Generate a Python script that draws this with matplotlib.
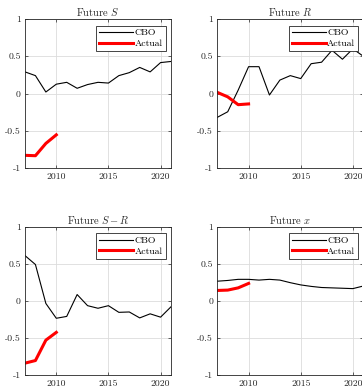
import matplotlib
matplotlib.use("Agg")
import matplotlib.pyplot as plt

plt.rcParams['font.family'] = ['cmr10', 'DejaVu Serif']
plt.rcParams['mathtext.fontset'] = 'cm'
plt.rcParams['axes.unicode_minus'] = False
plt.rcParams['axes.formatter.use_mathtext'] = True

years = [2007, 2008, 2009, 2010, 2011, 2012, 2013, 2014, 2015, 2016, 2017, 2018, 2019, 2020, 2021]
actual_years = [2007, 2008, 2009, 2010]

cbo_S = [0.29, 0.24, 0.02, 0.125, 0.15, 0.07, 0.12, 0.15, 0.14, 0.24, 0.28, 0.35, 0.29, 0.415, 0.43]
act_S = [-0.83, -0.835, -0.67, -0.555]

cbo_R = [-0.32, -0.245, 0.045, 0.36, 0.36, -0.02, 0.18, 0.24, 0.20, 0.40, 0.42, 0.58, 0.46, 0.60, 0.50]
act_R = [0.015, -0.045, -0.15, -0.14]

cbo_SR = [0.61, 0.49, -0.035, -0.235, -0.21, 0.085, -0.065, -0.10, -0.065, -0.155, -0.15, -0.23, -0.175, -0.22, -0.08]
act_SR = [-0.84, -0.805, -0.53, -0.425]

cbo_x = [0.265, 0.275, 0.29, 0.29, 0.28, 0.29, 0.28, 0.245, 0.215, 0.195, 0.18, 0.175, 0.17, 0.165, 0.20]
act_x = [0.14, 0.145, 0.175, 0.235]

titles = ['Future $S$', 'Future $R$', 'Future $S-R$', 'Future $x$']
xticks = [2010, 2015, 2020]
yticks = [-1, -0.5, 0, 0.5, 1]
yticklabels = ['-1', '-0.5', '0', '0.5', '1']

panels = [(cbo_S, act_S), (cbo_R, act_R), (cbo_SR, act_SR), (cbo_x, act_x)]

W, H = 362, 389
fig = plt.figure(figsize=(W / 100, H / 100), dpi=100)

lefts = [25, 217.3]
tops = [19, 226.7]
bottoms = [168, 375]
width = 146

for i, (cbo, act) in enumerate(panels):
    r, c = divmod(i, 2)
    x0 = lefts[c] / W
    y0 = 1 - bottoms[r] / H
    h = (bottoms[r] - tops[r]) / H
    ax = fig.add_axes([x0, y0, width / W, h])
    ax.plot(years, cbo, color='black', lw=0.8, label='CBO')
    ax.plot(actual_years, act, color='red', lw=2.2, label='Actual')
    ax.set_xlim(2007, 2021)
    ax.set_ylim(-1, 1)
    ax.set_xticks(xticks)
    ax.set_xticklabels([str(t) for t in xticks])
    ax.set_yticks(yticks)
    ax.set_yticklabels(yticklabels)
    ax.tick_params(direction='in', labelsize=7, length=2.5, width=0.5, pad=3,
                   top=True, right=True, labelcolor='#262626', color='#262626')
    ax.grid(True, color='#dcdcdc', lw=0.6)
    ax.set_axisbelow(True)
    for s in ax.spines.values():
        s.set_linewidth(0.6)
        s.set_color('#262626')
    ax.set_title(titles[i], fontsize=7.5, pad=2, color='#262626')
    leg = ax.legend(loc='upper right', bbox_to_anchor=(0.965, 0.955), fontsize=7,
                    handlelength=3.5, frameon=True, fancybox=False, framealpha=1,
                    edgecolor='#262626', borderpad=0.3, labelspacing=0.2, handletextpad=0.15,
                    borderaxespad=0)
    leg.get_frame().set_linewidth(0.6)

fig.savefig('out.png', dpi=100)
